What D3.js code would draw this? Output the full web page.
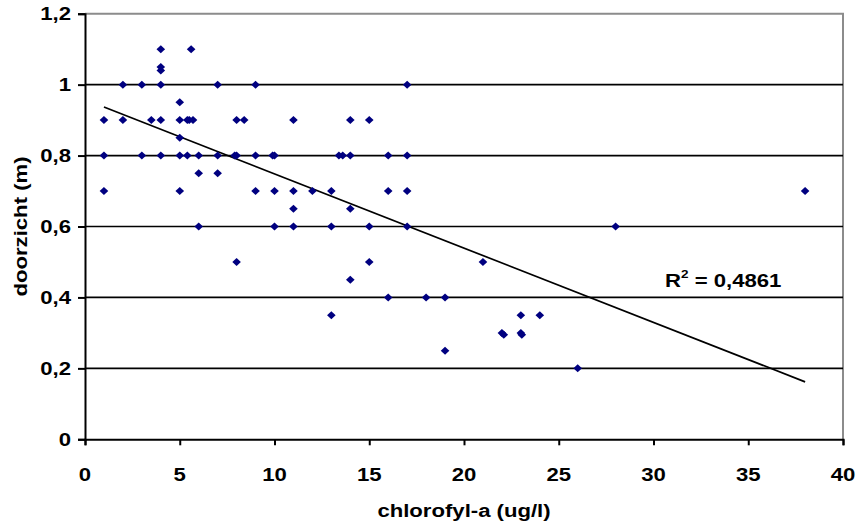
<!DOCTYPE html>
<html><head><meta charset="utf-8">
<script src="https://cdn.jsdelivr.net/npm/d3@7"></script>
<style>
body{margin:0;background:#fff;}
svg text{font-family:"Liberation Sans",Arial,sans-serif;font-weight:bold;fill:#000;}
</style></head>
<body><svg id="c" width="859" height="529"></svg>
<script>
// chlorofyl-a (ug/l)
const chlorofyl = [
 4,5.6, 4,4,
 2,3,4,7,9,17,
 5,
 1,2,3.5,4,5,5.4,5.5,5.7,8,8.4,11,14,15,
 5,
 1,3,4,5,5.4,6,7,7.9,8,9,9.9,10,13.4,13.6,14,16,17,
 6,7,
 1,5,9,10,11,12,13,16,17,38,
 11,14,
 6,10,11,13,15,17,28,
 8,15,21,
 14,
 16,18,19,
 13,23,24,
 22,22.1,23,23.05,
 19,
 26
];
// doorzicht (m)
const doorzicht = [
 1.1,1.1, 1.05,1.04,
 1,1,1,1,1,1,
 0.95,
 0.9,0.9,0.9,0.9,0.9,0.9,0.9,0.9,0.9,0.9,0.9,0.9,0.9,
 0.85,
 0.8,0.8,0.8,0.8,0.8,0.8,0.8,0.8,0.8,0.8,0.8,0.8,0.8,0.8,0.8,0.8,0.8,
 0.75,0.75,
 0.7,0.7,0.7,0.7,0.7,0.7,0.7,0.7,0.7,0.7,
 0.65,0.65,
 0.6,0.6,0.6,0.6,0.6,0.6,0.6,
 0.5,0.5,0.5,
 0.45,
 0.4,0.4,0.4,
 0.35,0.35,0.35,
 0.3,0.295,0.3,0.295,
 0.25,
 0.2
];
// trend line endpoints
const trendX = [1, 38];
const trendY = [0.937, 0.162];
const xTicks = [0,5,10,15,20,25,30,35,40];
const yTicks = [0,0.2,0.4,0.6,0.8,1,1.2];
const gridVals = [0.2,0.4,0.6,0.8,1];
const r2Label = "0,4861";

const svg = d3.select("#c");
const L=85, R=843, T=13.7, B=439.3;
const x = d3.scaleLinear().domain([0,40]).range([L,R]);
const y = d3.scaleLinear().domain([0,1.2]).range([B,T]);
const SX = 1.23;
const fmt = v => String(v).replace(".", ",");

// plot border (gray, top/right)
svg.append("path").attr("d",`M${L},${T}H${R}V${B}`).attr("fill","none")
  .attr("stroke","#8c8c8c").attr("stroke-width",2);

// gridlines
svg.selectAll("line.grid").data(gridVals).join("line")
  .attr("x1",L).attr("x2",R).attr("y1",d=>y(d)).attr("y2",d=>y(d))
  .attr("stroke","#000").attr("stroke-width",1.7);

// axes
const xAxis = d3.axisBottom(x).tickValues(xTicks).tickSize(6).tickFormat("");
const gx = svg.append("g").attr("transform",`translate(0,${B})`).call(xAxis);
gx.select(".domain").attr("stroke","#000").attr("stroke-width",2);
gx.selectAll(".tick line").attr("stroke","#000").attr("stroke-width",2);
const yAxis = d3.axisLeft(y).tickValues(yTicks).tickSize(7).tickFormat("");
const gy = svg.append("g").attr("transform",`translate(${L},0)`).call(yAxis);
gy.select(".domain").attr("stroke","#000").attr("stroke-width",2);
gy.selectAll(".tick line").attr("stroke","#000").attr("stroke-width",2);

// tick labels (wide rendering like the source)
svg.selectAll("text.xt").data(xTicks).join("text")
  .attr("text-anchor","middle").attr("font-size",18)
  .attr("transform",d=>`translate(${x(d)},481) scale(${SX},1)`)
  .text(d=>fmt(d));
svg.selectAll("text.yt").data(yTicks).join("text")
  .attr("text-anchor","end").attr("font-size",18)
  .attr("transform",d=>`translate(71,${y(d)+6.5}) scale(${SX},1)`)
  .text(d=>fmt(d));

// axis titles
svg.append("text").attr("text-anchor","middle").attr("font-size",18)
  .attr("transform",`translate(${(L+R)/2},517) scale(${SX},1)`)
  .text("chlorofyl-a (ug/l)");
svg.append("text").attr("text-anchor","middle").attr("font-size",18)
  .attr("transform",`translate(27,${(T+B)/2}) rotate(-90) scale(${SX},1)`)
  .text("doorzicht (m)");

// trend line
svg.append("line").attr("x1",x(trendX[0])).attr("y1",y(trendY[0]))
  .attr("x2",x(trendX[1])).attr("y2",y(trendY[1]))
  .attr("stroke","#000").attr("stroke-width",1.7);

// points (diamonds)
const pts = chlorofyl.map((c,i)=>[c,doorzicht[i]]);
svg.selectAll("path.pt").data(pts).join("path")
  .attr("d",d=>{const cx=x(d[0]),cy=y(d[1]);return `M${cx},${cy-4}L${cx+4.3},${cy}L${cx},${cy+4}L${cx-4.3},${cy}Z`;})
  .attr("fill","#000080");

// R^2 label
const rt = svg.append("text").attr("font-size",18)
  .attr("transform",`translate(665,287) scale(${SX},1)`);
rt.append("tspan").text("R");
rt.append("tspan").attr("font-size",11).attr("dy",-9).text("2");
rt.append("tspan").attr("dy",9).text(" = "+r2Label);
</script></body></html>
